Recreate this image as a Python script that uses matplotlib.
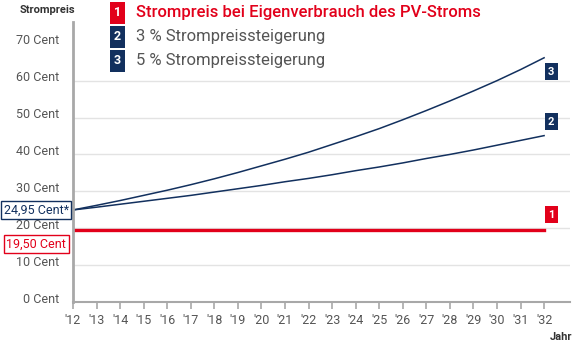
import matplotlib
matplotlib.use("Agg")
from matplotlib import pyplot as plt

plt.rcParams["font.family"] = ["Roboto", "DejaVu Sans"]

# yearly electricity price in cent/kWh
years = list(range(2012, 2033))
price_3pct = [24.95, 25.7, 26.5, 27.3, 28.1, 28.9, 29.8, 30.7, 31.6, 32.6, 33.5,
              34.5, 35.6, 36.6, 37.7, 38.9, 40.0, 41.2, 42.5, 43.8, 45.1]
price_5pct = [24.95, 26.2, 27.5, 28.9, 30.3, 31.8, 33.4, 35.1, 36.9, 38.7, 40.6,
              42.7, 44.8, 47.0, 49.4, 51.9, 54.5, 57.2, 60.0, 63.0, 66.2]
own_use_price = 19.50
start_price = 24.95
y_ticks = [0, 10, 20, 30, 40, 50, 60, 70]
legend_texts = ["Strompreis bei Eigenverbrauch des PV-Stroms",
                "3 % Strompreissteigerung",
                "5 % Strompreissteigerung"]

RED = "#e2001a"
NAVY = "#12305e"
GREY = "#555555"

fig = plt.figure(figsize=(5.74, 3.44), dpi=100)
ax = fig.add_axes([73 / 574, 1 - 302 / 344, 497 / 574, 280 / 344])
ax.set_xlim(2012, 2033.1)
ax.set_ylim(0, 75.9)

for v in y_ticks[:-1]:
    ax.axhline(v, color="#e3e3e3", lw=1, zorder=0)

ax.plot(years, price_5pct, color=NAVY, lw=1.1)
ax.plot(years, price_3pct, color=NAVY, lw=1.1)
ax.plot([years[0], years[-1]], [own_use_price] * 2, color=RED, lw=2.4)

for s in ["top", "right"]:
    ax.spines[s].set_visible(False)
ax.spines["left"].set_color("#a8a8a8")
ax.spines["left"].set_linewidth(2)
ax.spines["bottom"].set_color("#a8a8a8")
ax.spines["bottom"].set_linewidth(1.5)

ax.set_xticks(years)
ax.set_xticklabels(["'%02d" % (y % 100) for y in years])
ax.tick_params(axis="x", length=5, width=1.2, color="#a8a8a8",
               labelcolor=GREY, labelsize=9, pad=4)
ax.set_yticks([])

for v in y_ticks:
    ax.annotate("%d Cent" % v, (0, v), xycoords=("axes fraction", "data"),
                xytext=(-10, 2), textcoords="offset points",
                ha="right", va="center", fontsize=9, color=GREY)

# value boxes on the left axis
ax.annotate("24,95 Cent*", (2012, start_price), xytext=(-3, 0),
            textcoords="offset points", ha="right", va="center",
            fontsize=9, color=NAVY, annotation_clip=False,
            bbox=dict(boxstyle="square,pad=0.2", fc="white", ec=NAVY, lw=1))
ax.annotate("19,50 Cent", (2012, own_use_price), xytext=(-5, -10),
            textcoords="offset points", ha="right", va="center",
            fontsize=9, color=RED, annotation_clip=False,
            bbox=dict(boxstyle="square,pad=0.2", fc="white", ec=RED, lw=1))

# number markers at the line ends
ends = [("3", price_5pct[-1], -10, NAVY), ("2", price_3pct[-1], 10, NAVY),
        ("1", own_use_price, 11, RED)]
for num, val, dy, col in ends:
    ax.annotate(num, (years[-1], val), xytext=(5, dy), textcoords="offset points",
                ha="center", va="center", fontsize=8, fontweight="bold",
                color="white", annotation_clip=False,
                bbox=dict(boxstyle="square,pad=0.3", fc=col, ec="none"))

# legend
legend_colors = [RED, NAVY, NAVY]
legend_y = [13, 37, 61]
for i, (txt, col, yp) in enumerate(zip(legend_texts, legend_colors, legend_y)):
    fig.text(117.5 / 574, 1 - yp / 344, str(i + 1), ha="center", va="center",
             fontsize=9, fontweight="bold", color="white",
             bbox=dict(boxstyle="square,pad=0.35", fc=col, ec="none"))
    fig.text(136 / 574, 1 - yp / 344, txt, ha="left", va="center",
             fontsize=12, fontweight="medium" if i == 0 else "normal",
             color=RED if i == 0 else GREY)

fig.text(20 / 574, 1 - 10 / 344, "Strompreis", ha="left", va="center",
         fontsize=8, fontweight="bold", color="#333333")
fig.text(572 / 574, 1 - 337 / 344, "Jahr", ha="right", va="center",
         fontsize=8, fontweight="bold", color="#333333")

fig.savefig("out.png", dpi=100)
